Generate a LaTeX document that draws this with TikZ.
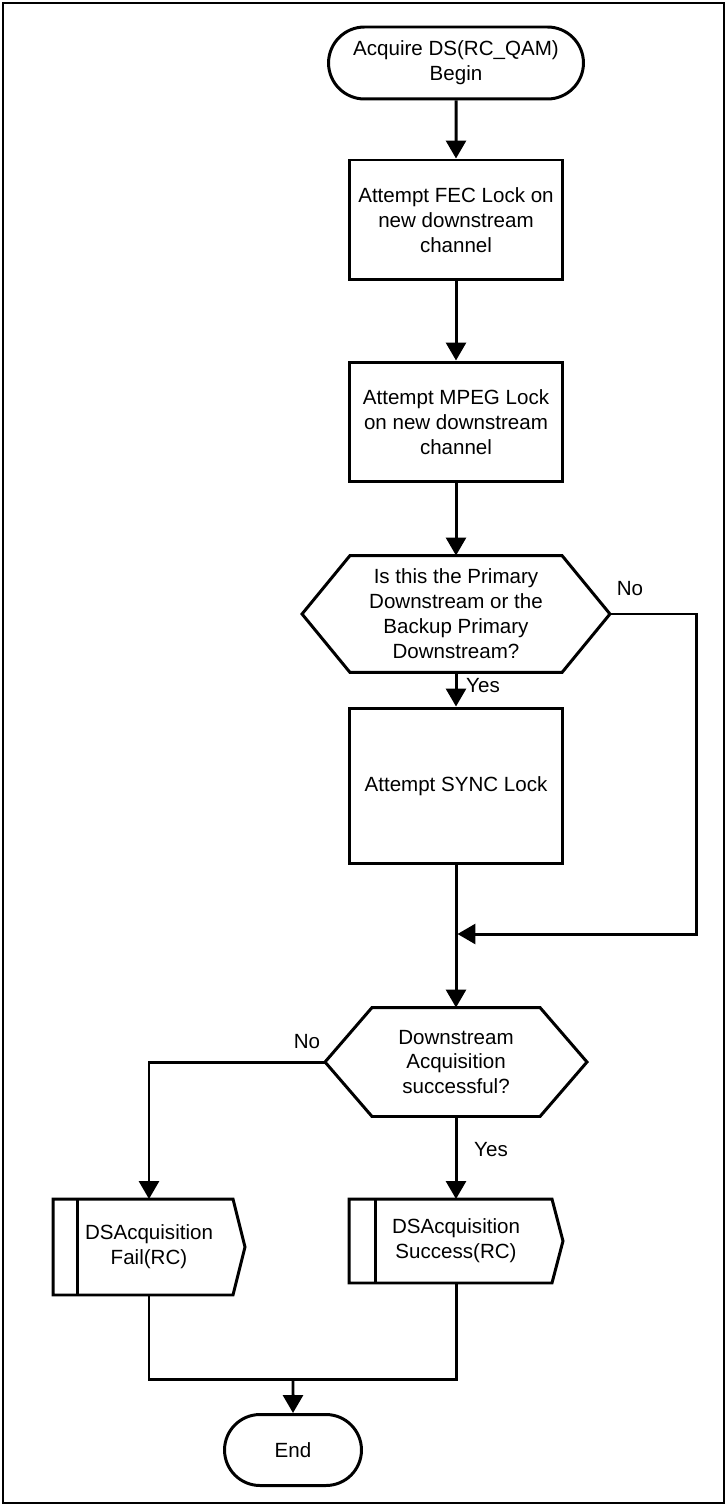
\documentclass[tikz,border=0pt]{standalone}
\usepackage{fontspec}
\setmainfont{Liberation Sans}
\usetikzlibrary{arrows.meta,shapes.misc}

% outline of a decision node: node name, chamfer
\newcommand{\hexoutline}[2]{%
  \draw[flowline] (#1.west) -- ([xshift=#2]#1.north west) -- ([xshift=-#2]#1.north east)
    -- (#1.east) -- ([xshift=-#2]#1.south east) -- ([xshift=#2]#1.south west) -- cycle;}
% outline of a subroutine node: node name, bar, point
\newcommand{\suboutline}[3]{%
  \draw[flowline] (#1.north west) -- ([xshift=-#3]#1.north east) -- (#1.east)
    -- ([xshift=-#3]#1.south east) -- (#1.south west) -- cycle;
  \draw[flowline] ([xshift=#2]#1.north west) -- ([xshift=#2]#1.south west);}

\begin{document}
\begin{tikzpicture}[
    x=0.02cm, y=-0.02cm,
    font=\fontsize{11.7pt}{14.2pt}\selectfont,
    flowline/.style={line width=1.7pt},
    arr/.style={flowline, -{Triangle[length=3.6mm,width=4mm]}},
    term/.style={draw, flowline, rounded rectangle, align=center, inner sep=2pt},
    proc/.style={draw, flowline, rectangle, align=center, minimum width=4.26cm, inner sep=2pt},
    hexnode/.style={rectangle, align=center, inner sep=0pt, outer sep=0pt},
    subnode/.style={rectangle, align=center, inner sep=0pt, outer sep=0pt},
    lbl/.style={inner sep=1pt}
  ]
  \useasboundingbox (0,0) rectangle (727,1506);
  \draw[line width=1.1pt] (3,3) rectangle (724,1503);

  \node[term, minimum width=5.24cm, minimum height=1.44cm] (start) at (456,63) {Acquire DS(RC\_QAM)\\Begin};
  \node[proc, minimum height=2.4cm] (fec) at (456,220) {Attempt FEC Lock on\\new downstream\\channel};
  \node[proc, minimum height=2.4cm] (mpeg) at (456,422) {Attempt MPEG Lock\\on new downstream\\channel};
  \node[hexnode, minimum width=6.16cm, minimum height=2.34cm] (primary) at (456,614)
    {Is this the Primary\\Downstream or the\\Backup Primary\\Downstream?};
  \hexoutline{primary}{0.96cm}
  \node[proc, minimum height=3.12cm] (sync) at (456,786) {Attempt SYNC Lock};
  \coordinate (merge) at (456,934);
  \node[hexnode, minimum width=5.24cm, minimum height=2.18cm] (check) at (456,1062)
    {Downstream\\Acquisition\\successful?};
  \hexoutline{check}{0.94cm}
  \node[subnode, minimum width=3.84cm, minimum height=1.92cm] (fail) at (149,1247) {DSAcquisition\\Fail(RC)};
  \suboutline{fail}{0.48cm}{0.24cm}
  \node[subnode, minimum width=4.28cm, minimum height=1.68cm] (success) at (456,1241) {DSAcquisition\\Success(RC)};
  \suboutline{success}{0.52cm}{0.22cm}
  \coordinate (join) at (293,1379);
  \node[term, minimum width=2.88cm, minimum height=1.42cm] (finish) at (293,1450) {End};

  \draw[arr] (start) -- (fec);
  \draw[arr] (fec) -- (mpeg);
  \draw[arr] (mpeg) -- (primary.north);
  \draw[arr] (primary.south) -- (sync);
  \draw[arr] (sync) -- (check.north);
  \draw[arr, shorten >=0.85pt] (primary.east) -- ++(87,0) |- (merge);
  \draw[arr] (check.west) -| (fail.north);
  \draw[arr] (check.south) -- (success.north);
  \draw[flowline] (fail.south) |- (join) -| (success.south);
  \draw[arr] (join) -- (finish);

  \node[lbl] (no1) at (630,589) {No};
  \node[lbl] (yes1) at (483,686) {Yes};
  \node[lbl] (no2) at (307,1042) {No};
  \node[lbl] (yes2) at (491,1150) {Yes};
\end{tikzpicture}
\end{document}
